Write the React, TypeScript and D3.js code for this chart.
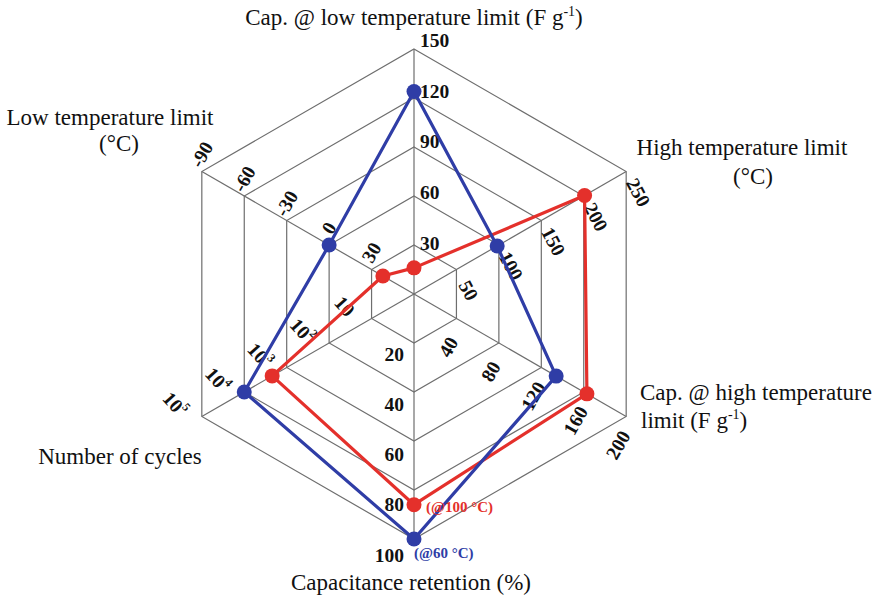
import React from 'react';
import * as d3 from 'd3';

// six axes, clockwise from the top
const capLowTicks = [30, 60, 90, 120, 150];
const highTempTicks = [50, 100, 150, 200, 250];
const capHighTicks = [40, 80, 120, 160, 200];
const retentionTicks = [20, 40, 60, 80, 100];
const cycleTicks = [10, 100, 1000, 10000, 100000];
const lowTempTicks = [30, 0, -30, -60, -90];

// [capLow, highTemp, capHigh, retention, cycles, lowTemp]
const redValues = [16, 201, 163, 86, 2200, 38];
const blueValues = [124, 98, 134, 100, 10000, 0];

const redNote = '(@100 °C)';
const blueNote = '(@60 °C)';

const W = 883;
const H = 599;
const cx = 414;
const cy = 294;
const R = 245;

const RED = '#e4302b';
const BLUE = '#2f3da6';
const GRID = '#6e6e6e';
const FONT = "'Liberation Serif', 'Times New Roman', Times, serif";

const rScale = [
  d3.scaleLinear().domain([0, 150]).range([0, R]),
  d3.scaleLinear().domain([0, 250]).range([0, R]),
  d3.scaleLinear().domain([0, 200]).range([0, R]),
  d3.scaleLinear().domain([0, 100]).range([0, R]),
  d3.scaleLog().domain([1, 100000]).range([0, R]),
  d3.scaleLinear().domain([60, -90]).range([0, R]),
];
const tickSets = [capLowTicks, highTempTicks, capHighTicks, retentionTicks, cycleTicks, lowTempTicks];

// angle of each spoke in screen degrees
const angles = [-90, -30, 30, 90, 150, 210];

// label placement per axis: radius factor, extra radius, offset, rotation, anchor
const labelLayout = [
  { k: 1.035, along: 0, dx: 6, dy: 0, rot: 0, anchor: 'start' },
  { k: 1, along: 0, dx: 12, dy: 21, rot: 62, anchor: 'middle' },
  { k: 1, along: 7, dx: -14, dy: 25, rot: -60, anchor: 'middle' },
  { k: 1.025, along: 10, dx: -10, dy: 0, rot: 0, anchor: 'end' },
  { k: 1, along: 0, dx: -27, dy: -12, rot: 48, anchor: 'middle' },
  { k: 1, along: 0, dx: 0, dy: -17, rot: -60, anchor: 'middle' },
];

const pt = (i: number, r: number): [number, number] => {
  const a = (angles[i] * Math.PI) / 180;
  return [cx + r * Math.cos(a), cy + r * Math.sin(a)];
};

const ringLine = d3.line<[number, number]>().curve(d3.curveLinearClosed);

function Series({ values, color }: { values: number[]; color: string }) {
  const pts = values.map((v, i) => pt(i, rScale[i](v)));
  return <path d={ringLine(pts) || ''} fill="none" stroke={color} strokeWidth={3.2} strokeLinejoin="round" />;
}

function Dots({ values, color }: { values: number[]; color: string }) {
  const pts = values.map((v, i) => pt(i, rScale[i](v)));
  return (
    <g>
      {pts.map((p, i) => (
        <circle key={i} cx={p[0]} cy={p[1]} r={7.5} fill={color} />
      ))}
    </g>
  );
}

function TickLabel({ axis, value, idx }: { axis: number; value: number; idx: number }) {
  const L = labelLayout[axis];
  const r = rScale[axis](value);
  const [x, y] = pt(axis, r * L.k + L.along);
  const px = x + L.dx;
  const py = y + L.dy;
  let content: React.ReactNode = String(value);
  if (axis === 4 && idx > 0) {
    content = (
      <>
        10
        <tspan style={{ fontSize: 12 }} dy={-7}>{Math.round(Math.log10(value))}</tspan>
      </>
    );
  }
  return (
    <text
      x={px}
      y={py}
      transform={L.rot ? `rotate(${L.rot},${px},${py})` : undefined}
      textAnchor={L.anchor as any}
      dominantBaseline="central"
      style={{ fontFamily: FONT, fontWeight: 'bold', fontSize: 19.5 }}
    >
      {content}
    </text>
  );
}

const sup = (s: string) => (
  <tspan style={{ fontSize: 14 }} dy={-9}>{s}</tspan>
);

export default function App() {
  const rings = d3.range(1, 6).map((k) => (k * R) / 5);
  const redBottom = pt(3, rScale[3](redValues[3]));
  const blueBottom = pt(3, rScale[3](blueValues[3]));
  const title = { fontFamily: FONT, fontSize: 23 };
  return (
    <svg
      width={W}
      height={H}
      viewBox={`0 0 ${W} ${H}`}
      style={{ position: 'absolute', left: 0, top: 0, background: '#fff', fontFamily: FONT }}
    >
      {/* grid */}
      <g stroke={GRID} strokeWidth={1.2} fill="none">
        {rings.map((r, i) => (
          <path key={i} d={ringLine(angles.map((_, j) => pt(j, r))) || ''} />
        ))}
        {angles.map((_, j) => {
          const [x, y] = pt(j, R);
          return <line key={j} x1={cx} y1={cy} x2={x} y2={y} />;
        })}
      </g>

      {/* tick labels */}
      <g fill="#111">
        {tickSets.map((ticks, a) =>
          ticks.map((v, i) => <TickLabel key={`${a}-${i}`} axis={a} value={v} idx={i} />)
        )}
      </g>

      <Series values={redValues} color={RED} />
      <Series values={blueValues} color={BLUE} />
      <Dots values={redValues} color={RED} />
      <Dots values={blueValues} color={BLUE} />

      {/* notes at the retention points */}
      <text x={redBottom[0] + 12} y={redBottom[1] + 2} dominantBaseline="central" fill={RED}
        style={{ fontFamily: FONT, fontWeight: 'bold', fontSize: 15 }}>{redNote}</text>
      <text x={blueBottom[0]} y={blueBottom[1] + 14} dominantBaseline="central" fill={BLUE}
        style={{ fontFamily: FONT, fontWeight: 'bold', fontSize: 15 }}>{blueNote}</text>

      {/* axis titles */}
      <g fill="#111">
        <text x={414} y={25} textAnchor="middle" style={title}>
          Cap. @ low temperature limit (F g{sup('-1')}<tspan dy={9}>)</tspan>
        </text>
        <text x={742} y={155} textAnchor="middle" style={title}>High temperature limit</text>
        <text x={753} y={184} textAnchor="middle" style={title}>(°C)</text>
        <text x={640} y={400} textAnchor="start" style={title}>Cap. @ high temperature</text>
        <text x={641} y={428} textAnchor="start" style={title}>
          limit (F g{sup('-1')}<tspan dy={9}>)</tspan>
        </text>
        <text x={110} y={125} textAnchor="middle" style={title}>Low temperature limit</text>
        <text x={119} y={151} textAnchor="middle" style={title}>(°C)</text>
        <text x={120} y={464} textAnchor="middle" style={title}>Number of cycles</text>
        <text x={411} y={590} textAnchor="middle" style={title}>Capacitance retention (%)</text>
      </g>
    </svg>
  );
}
